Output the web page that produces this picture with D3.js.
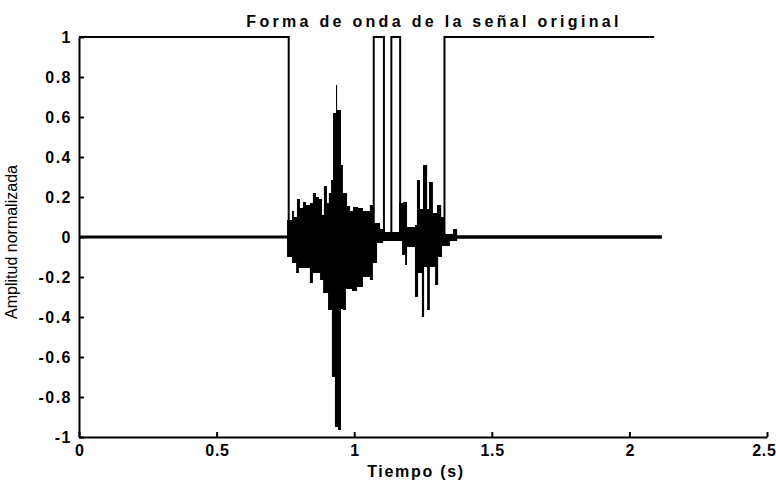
<!DOCTYPE html>
<html>
<head>
<meta charset="utf-8">
<script src="https://cdn.jsdelivr.net/npm/d3@7"></script>
<style>
  html, body { margin: 0; padding: 0; background: #fff; }
  svg { display: block; }
  .tick text { font-family: "Liberation Sans", Arial, sans-serif; font-size: 16px; font-weight: bold; fill: #000; }
  .y-axis .tick text { letter-spacing: 1.5px; }
  .x-axis .tick text { letter-spacing: 0.8px; }
</style>
</head>
<body>
<svg id="chart" width="776" height="481"></svg>
<script>
// Axis ticks
const xTicks = [0, 0.5, 1, 1.5, 2, 2.5];
const yTicks = [-1, -0.8, -0.6, -0.4, -0.2, 0, 0.2, 0.4, 0.6, 0.8, 1];

// Signal envelope, positive side: [start time (s), peak amplitude], held until next entry
const upperEnvelope = [
  [0.000, 0.008], [0.756, 0.085], [0.774, 0.13], [0.781, 0.10], [0.792, 0.19],
  [0.803, 0.145], [0.814, 0.175], [0.825, 0.16], [0.839, 0.17], [0.850, 0.22],
  [0.861, 0.20], [0.872, 0.19], [0.883, 0.11], [0.890, 0.255], [0.901, 0.17],
  [0.908, 0.22], [0.916, 0.285], [0.923, 0.62], [0.934, 0.76], [0.938, 0.635],
  [0.952, 0.36], [0.959, 0.22], [0.974, 0.155], [0.985, 0.13], [0.996, 0.15],
  [1.014, 0.145], [1.032, 0.13], [1.057, 0.16], [1.068, 0.07], [1.094, 0.04],
  [1.112, 0.025], [1.163, 0.17], [1.177, 0.175], [1.192, 0.05], [1.221, 0.06],
  [1.228, 0.285], [1.239, 0.14], [1.250, 0.36], [1.265, 0.14], [1.272, 0.275],
  [1.286, 0.12], [1.301, 0.16], [1.316, 0.10], [1.326, 0.015], [1.359, 0.04],
  [1.374, 0.009], [2.118, 0.009]
];

// Signal envelope, negative side: [start time (s), trough amplitude]
const lowerEnvelope = [
  [0.000, -0.008], [0.756, -0.10], [0.774, -0.13], [0.789, -0.18], [0.799, -0.155],
  [0.839, -0.23], [0.850, -0.18], [0.876, -0.215], [0.887, -0.28], [0.905, -0.365],
  [0.919, -0.70], [0.930, -0.95], [0.941, -0.965], [0.952, -0.36], [0.959, -0.365],
  [0.970, -0.26], [0.992, -0.27], [1.010, -0.25], [1.032, -0.20], [1.057, -0.215],
  [1.068, -0.13], [1.083, -0.03], [1.105, -0.02], [1.174, -0.09], [1.185, -0.14],
  [1.192, -0.05], [1.221, -0.30], [1.232, -0.18], [1.246, -0.40], [1.254, -0.15],
  [1.265, -0.365], [1.275, -0.15], [1.294, -0.24], [1.305, -0.10], [1.319, -0.045],
  [1.348, -0.02], [1.374, -0.009], [2.118, -0.009]
];

// Voice activity flag: [start time (s), level], held until next entry
const activityTimes  = [0.000, 0.762, 1.071, 1.108, 1.135, 1.167, 1.328, 2.090];
const activityLevels = [1,     0,     1,     0,     1,     0,     1,     1];

const svg = d3.select("#chart");
const margin = { left: 79, right: 9, top: 37, bottom: 44 };
const W = 776, H = 481;

const x = d3.scaleLinear().domain([0, 2.5]).range([margin.left, W - margin.right]);
const y = d3.scaleLinear().domain([-1, 1]).range([H - margin.bottom, margin.top]);

// Waveform envelope
const upperArea = d3.area()
  .curve(d3.curveStepAfter)
  .x(d => x(d[0])).y0(y(0)).y1(d => y(d[1]));
const lowerArea = d3.area()
  .curve(d3.curveStepAfter)
  .x(d => x(d[0])).y0(d => y(d[1])).y1(y(0));

svg.append("path").datum(upperEnvelope).attr("d", upperArea).attr("fill", "#000");
svg.append("path").datum(lowerEnvelope).attr("d", lowerArea).attr("fill", "#000");

// Activity flag as a stepped line
const activity = activityTimes.map((t, i) => [t, activityLevels[i]]);
svg.append("path")
  .datum(activity)
  .attr("d", d3.line().curve(d3.curveStepAfter).x(d => x(d[0])).y(d => y(d[1])))
  .attr("fill", "none")
  .attr("stroke", "#000")
  .attr("stroke-width", 2);

// Plain hyphen for negative numbers
const fmt = d => d3.format("~g")(d).replace("\u2212", "-");

// Axes with inward ticks
const xAxis = d3.axisBottom(x).tickValues(xTicks).tickSizeInner(-5).tickSizeOuter(0)
  .tickPadding(8).tickFormat(fmt);
const yAxis = d3.axisLeft(y).tickValues(yTicks).tickSizeInner(-5).tickSizeOuter(0)
  .tickPadding(7).tickFormat(fmt);

const gx = svg.append("g").attr("class", "x-axis")
  .attr("transform", `translate(0,${y(-1)})`).call(xAxis);
const gy = svg.append("g").attr("class", "y-axis")
  .attr("transform", `translate(${x(0)},0)`).call(yAxis);
[gx, gy].forEach(g => {
  g.select(".domain").attr("stroke", "#000").attr("stroke-width", 2);
  g.selectAll(".tick line").attr("stroke", "#000").attr("stroke-width", 2);
});
// Keep the last label inside the page edge
gx.selectAll(".tick text")
  .attr("dy", "0.71em")
  .attr("dx", d => d === xTicks[xTicks.length - 1] ? "-3px" : "0.4px");

// Titles
svg.append("text")
  .attr("x", 434).attr("y", 27)
  .attr("text-anchor", "middle")
  .attr("fill", "#000")
  .style("font-family", "'Liberation Sans', Arial, sans-serif")
  .style("font-size", "16px").style("font-weight", "bold")
  .style("letter-spacing", "3.3px")
  .text("Forma de onda de la señal original");

svg.append("text")
  .attr("x", 416).attr("y", 477)
  .attr("text-anchor", "middle")
  .attr("fill", "#000")
  .style("font-family", "'Liberation Sans', Arial, sans-serif")
  .style("font-size", "16px").style("font-weight", "bold")
  .style("letter-spacing", "1.7px")
  .text("Tiempo (s)");

svg.append("text")
  .attr("transform", "translate(17,242) rotate(-90)")
  .attr("text-anchor", "middle")
  .attr("fill", "#000")
  .style("font-family", "'Liberation Sans', Arial, sans-serif")
  .style("font-size", "16px")
  .text("Amplitud normalizada");
</script>
</body>
</html>
